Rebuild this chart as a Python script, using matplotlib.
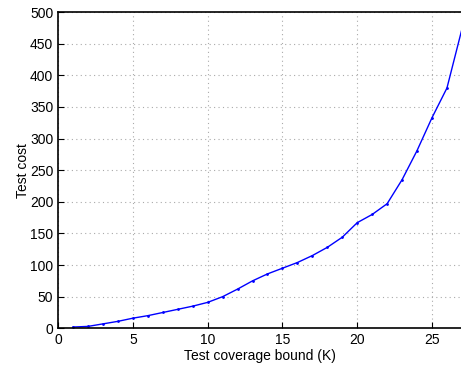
import matplotlib
matplotlib.use('Agg')
import matplotlib.pyplot as plt

plt.rcParams['font.family'] = ['Liberation Sans', 'DejaVu Sans']

k = [1, 2, 3, 4, 5, 6, 7, 8, 9, 10, 11, 12, 13, 14,
     15, 16, 17, 18, 19, 20, 21, 22, 23, 24, 25, 26, 27]
cost = [2, 3, 7, 11, 16, 20, 25, 30, 35, 41, 50, 62, 75, 86,
        95, 104, 115, 128, 144, 167, 180, 197, 235, 281, 333, 380, 473]

fig = plt.figure(figsize=(4.61, 3.66), dpi=100)
ax = fig.add_axes([0.126, 0.103, 0.876, 0.864])
ax.plot(k, cost, color='blue', marker='.', markersize=2, linewidth=1)

ax.set_xlim(0, 27)
ax.set_ylim(0, 500)
ax.set_xticks([0, 5, 10, 15, 20, 25])
ax.set_yticks(range(0, 501, 50))
ax.grid(True, linestyle=(0, (1, 3)), color='#aaaaaa', linewidth=0.8)
ax.tick_params(direction='in', labelsize=10, length=4)
for s in ax.spines.values():
    s.set_linewidth(1.2)

ax.set_xlabel('Test coverage bound (K)', fontsize=10, labelpad=1)
ax.set_ylabel('Test cost', fontsize=10, labelpad=0)

fig.savefig('out.png', dpi=100)
